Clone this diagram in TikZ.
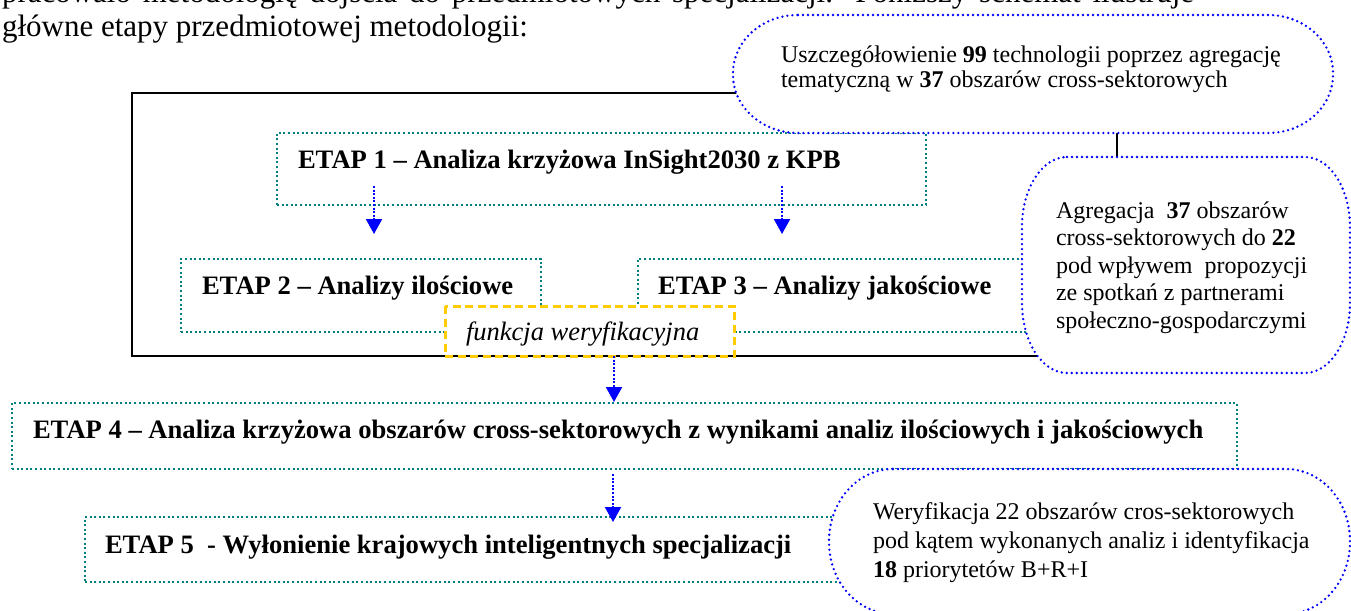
\documentclass[tikz,border=0pt]{standalone}
\usepackage{fontspec}
\setmainfont{Liberation Serif}
\usetikzlibrary{calc,arrows.meta}
\definecolor{tealc}{RGB}{0,128,128}
\definecolor{goldc}{RGB}{255,204,0}
\definecolor{blueb}{RGB}{0,0,255}
\newcommand\fbody{\fontsize{31}{35}\selectfont}
\newcommand\fetap{\fontsize{26.6}{30}\selectfont\bfseries}
\tikzset{
 tealbox/.style={draw=tealc, line width=2pt, dash pattern=on 2pt off 2.6pt, inner ysep=0pt, outer sep=0pt, anchor=base west, font=\fetap},
 framebox/.style={draw=black, line width=2.5pt, inner sep=0pt, outer sep=0pt, anchor=north west},
 golddash/.style={draw=goldc, line width=3pt, dash pattern=on 8pt off 4.5pt},
 bluedots/.style={draw=blueb, line width=2.6pt, line cap=round, dash pattern=on 0pt off 5pt},
 flowarrow/.style={draw=blueb, line width=2pt, dash pattern=on 2pt off 1.6pt, -{Triangle[width=16pt,length=15pt]}},
 bodytext/.style={inner sep=0pt, outer sep=0pt, anchor=base west, font=\fbody},
 bubble/.style 2 args={inner sep=0pt, outer sep=0pt, anchor=base west,
  path picture={
   \path[fill=white,bluedots]
    ($(path picture bounding box.north west)+(2+#1,-2)$)
    -- ($(path picture bounding box.north east)+(-2-#1,-2)$)
    arc[start angle=90,end angle=0,x radius=#1pt,y radius=#2pt]
    -- ($(path picture bounding box.south east)+(-2,2+#2)$)
    arc[start angle=0,end angle=-90,x radius=#1pt,y radius=#2pt]
    -- ($(path picture bounding box.south west)+(2+#1,2)$)
    arc[start angle=270,end angle=180,x radius=#1pt,y radius=#2pt]
    -- ($(path picture bounding box.north west)+(2,-2-#2)$)
    arc[start angle=180,end angle=90,x radius=#1pt,y radius=#2pt]
    -- cycle;
  }},
}
\begin{document}
\begin{tikzpicture}[x=1pt,y=1pt]
\useasboundingbox (0,0) rectangle (1351,-610);
\clip (0,0) rectangle (1351,-610);

% body text
\node[bodytext] (p1) at (2,-3) {\makebox[1192pt][s]{pracowało metodologię dojścia do przedmiotowych specjalizacji. Poniższy schemat ilustruje}};
\node[bodytext] (p2) at (2,-37) {główne etapy przedmiotowej metodologii:};

% frame
\node[framebox, minimum width=985pt, minimum height=263pt] (frame) at (132,-93) {};

% stages
\node[tealbox, inner xsep=21pt, text height=35pt, text depth=37pt] (E1) at (277,-168) {\makebox[607pt][l]{ETAP 1 – Analiza krzyżowa InSight2030 z KPB}};
\node[tealbox, inner xsep=21pt, text height=35pt, text depth=37.5pt] (E2) at (181,-294) {\makebox[318pt][l]{ETAP 2 – Analizy ilościowe}};
\node[tealbox, inner xsep=20pt, text height=35pt, text depth=37.5pt] (E3) at (638,-294) {\makebox[367pt][l]{ETAP 3 – Analizy jakościowe}};

\begin{scope}
\clip (0,0) rectangle (1351,-345.5);
\node[inner ysep=0pt, inner xsep=21pt, outer sep=0pt, anchor=base west, text height=34pt, text depth=16pt, fill=white, font=\fontsize{26.5}{30}\selectfont\itshape] (fw) at (445,-340) {\makebox[247pt][l]{funkcja weryfikacyjna}};
\end{scope}
\draw[golddash] (fw.north west) rectangle (fw.south east);

\node[tealbox, inner xsep=21pt, text height=35pt, text depth=31pt] (E4) at (12,-438) {\makebox[1183pt][l]{ETAP 4 – Analiza krzyżowa obszarów cross-sektorowych z wynikami analiz ilościowych i jakościowych}};
\node[tealbox, inner xsep=20pt, text height=36pt, text depth=29pt] (E5) at (85,-553) {\makebox[745pt][l]{ETAP 5\ \ - Wyłonienie krajowych inteligentnych specjalizacji}};

% bubbles
\node[bubble={65}{58}, text height=50pt, text depth=72pt] (U) at (731,-63) {\hspace*{50pt}\parbox[t]{554pt}{\fontsize{24}{25}\selectfont\raggedright Uszczegółowienie \textbf{99} technologii poprzez agregację\\tematyczną w \textbf{37} obszarów cross-sektorowych}};
\node[bubble={45}{70}, text height=63pt, text depth=157pt] (A) at (1020,-218) {\hspace*{36pt}\parbox[t]{296pt}{\fontsize{24}{27.5}\selectfont\raggedright Agregacja\ \ \textbf{37} obszarów\\cross-sektorowych do \textbf{22}\\pod wpływem\ \ propozycji\\ze spotkań z partnerami\\społeczno-gospodarczymi}};
\node[bubble={64}{72}, text height=52pt, text depth=97pt] (W) at (827,-519) {\hspace*{46pt}\parbox[t]{479pt}{\fontsize{24}{29}\selectfont\raggedright Weryfikacja 22 obszarów cros-sektorowych\\pod kątem wykonanych analiz i identyfikacja\\\textbf{18} priorytetów B+R+I}};

% arrows
\draw[flowarrow] ($(E1.south west)+(97,19)$) -- ($(E2.north west)+(193,25)$);
\draw[flowarrow] ($(E1.south west)+(505,19)$) -- ($(E3.north west)+(144,25)$);
\draw[flowarrow] ($(fw.south west)+(169,0)$) -- ($(E4.north west)+(602,1)$);
\draw[flowarrow] ($(E4.south west)+(601,-5)$) -- ($(E5.north west)+(528,-5)$);
\end{tikzpicture}
\end{document}
